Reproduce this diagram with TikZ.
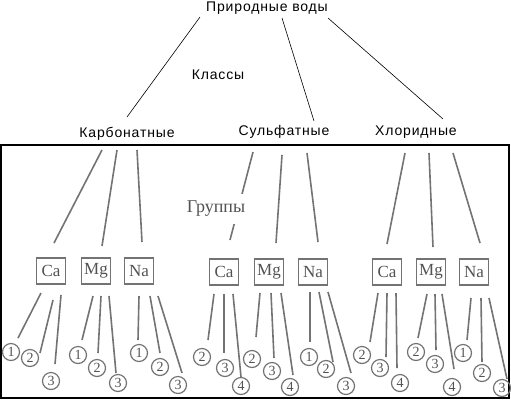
\documentclass[tikz,border=0pt]{standalone}
\usepackage{fontspec}
\setmainfont{Liberation Serif}
\newfontfamily\topfont[LetterSpace=6]{Liberation Sans}
\colorlet{scanline}{black!55}
\colorlet{scantext}{black!68}
\newcommand\leaf[5]{%
  \node[numc] (#1) at (#4) {#5};
  \coordinate (#1a) at (#2);
  \coordinate (#1b) at (#3);
  \draw[scan] (#1a) -- (#1b);}
\newcommand\branch[3]{%
  \coordinate (#1a) at (#2);
  \coordinate (#1b) at (#3);
  \draw[scan] (#1a) -- (#1b);}
\begin{document}
\begin{tikzpicture}[x=1pt,y=-1pt,
  toptext/.style={font=\topfont\fontsize{14}{16}\selectfont, inner sep=0pt},
  topline/.style={draw=black, line width=0.6pt},
  scan/.style={draw=scanline, line width=1.6pt},
  elem/.style={draw=scanline, line width=1.5pt, minimum width=29pt, minimum height=26pt, inner sep=0pt,
     text=scantext, font=\fontsize{17}{18}\selectfont},
  numc/.style={circle, draw=scanline, line width=1.2pt, minimum size=17pt, inner sep=0pt,
     text=scantext, font=\fontsize{14}{14}\selectfont},
  grp/.style={text=scantext, font=\fontsize{18}{20}\selectfont, fill=white, inner xsep=1pt, inner ysep=7pt}]
\useasboundingbox (0,0) rectangle (511,400);

% top level
\node[toptext] (root) at (267,8) {Природные воды};
\node[toptext] (cls) at (218,75) {Классы};
\node[toptext] (carb) at (127,134) {Карбонатные};
\node[toptext] (sulf) at (284,132) {Сульфатные};
\node[toptext] (chl) at (416,132) {Хлоридные};
\coordinate (r1) at (200,17); \coordinate (c1) at (127,117);
\coordinate (r2) at (282,18); \coordinate (c2) at (314,121);
\coordinate (r3) at (328,18); \coordinate (c3) at (443,119);
\draw[topline] (r1) -- (c1);
\draw[topline] (r2) -- (c2);
\draw[topline] (r3) -- (c3);

% frame
\draw[line width=1.6pt, black] (1,145) rectangle (509,398);

% element boxes
\node[elem] (kCa) at (51,271) {Ca};
\node[elem] (kMg) at (96,271) {Mg};
\node[elem] (kNa) at (139,271) {Na};
\node[elem] (sCa) at (224,272) {Ca};
\node[elem] (sMg) at (269,272) {Mg};
\node[elem] (sNa) at (313,272) {Na};
\node[elem] (hCa) at (387,272) {Ca};
\node[elem] (hMg) at (431,272) {Mg};
\node[elem] (hNa) at (474,272) {Na};

% branches to element boxes
\branch{bkCa}{102,150}{54,243}
\branch{bkMg}{117,150}{102,246}
\branch{bkNa}{137,150}{142,242}
\branch{bsCa}{253,152}{230,240}
\branch{bsMg}{282,155}{276,243}
\branch{bsNa}{307,153}{318,242}
\branch{bhCa}{405,153}{387,244}
\branch{bhMg}{429,153}{433,247}
\branch{bhNa}{453,153}{480,243}

\node[grp] (groups) at (216,209) {Группы};

% carbonate leaves
\leaf{kCa1}{41,293}{18,338}{11,352}{1}
\leaf{kCa2}{53,300}{40,353}{30,358}{2}
\leaf{kCa3}{61,295}{55,364}{51,381}{3}
\leaf{kMg1}{93,296}{82,340}{78,355}{1}
\leaf{kMg2}{101,296}{98,353}{97,368}{2}
\leaf{kMg3}{109,296}{116,373}{118,383}{3}
\leaf{kNa1}{139,296}{138,340}{139,353}{1}
\leaf{kNa2}{150,296}{160,353}{160,367}{2}
\leaf{kNa3}{158,296}{182,373}{178,385}{3}

% sulfate leaves
\leaf{sCa2}{214,294}{208,340}{202,357}{2}
\leaf{sCa3}{224,294}{224,353}{225,368}{3}
\leaf{sCa4}{233,294}{241,377}{241,386}{4}
\leaf{sMg2}{260,293}{256,337}{252,359}{2}
\leaf{sMg3}{271,293}{274,358}{272,371}{3}
\leaf{sMg4}{281,293}{293,375}{290,387}{4}
\leaf{sNa1}{310,292}{310,342}{309,357}{1}
\leaf{sNa2}{319,292}{333,362}{326,369}{2}
\leaf{sNa3}{328,292}{351,373}{346,386}{3}

% chloride leaves
\leaf{hCa2}{378,293}{370,342}{362,355}{2}
\leaf{hCa3}{387,293}{386,357}{380,368}{3}
\leaf{hCa4}{396,293}{397,368}{400,383}{4}
\leaf{hMg2}{427,294}{418,338}{416,352}{2}
\leaf{hMg3}{435,294}{436,350}{435,364}{3}
\leaf{hMg4}{442,294}{454,369}{452,387}{4}
\leaf{hNa1}{471,298}{467,340}{463,353}{1}
\leaf{hNa2}{481,298}{482,362}{482,373}{2}
\leaf{hNa3}{489,298}{507,379}{502,388}{3}
\end{tikzpicture}
\end{document}
